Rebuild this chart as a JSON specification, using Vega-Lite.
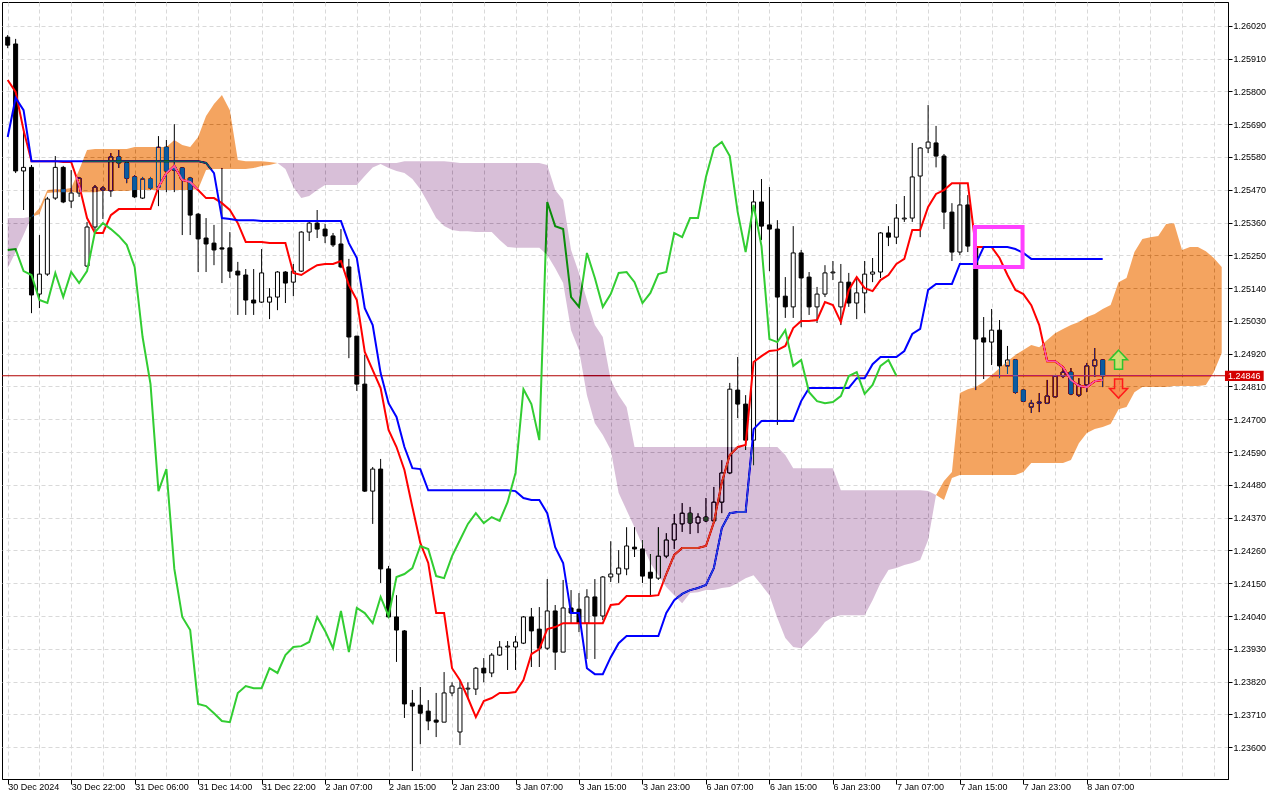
{
  "$schema": "https://vega.github.io/schema/vega-lite/v6.json",
  "description": "Ichimoku H1 chart, 30 Dec 2024 - 8 Jan 2025",
  "width": 1226,
  "height": 777,
  "autosize": {"type": "none"},
  "padding": {"left": 2, "top": 2, "right": 52, "bottom": 21},
  "background": "white",
  "config": {
    "view": {"stroke": "black", "strokeWidth": 1},
    "axis": {
      "labelFont": "Liberation Sans",
      "labelFontSize": 9,
      "labelColor": "black",
      "tickColor": "black",
      "domainColor": "black",
      "gridColor": "#d9d9d9",
      "gridDash": [4, 3],
      "gridWidth": 1,
      "labelOverlap": false,
      "labelBound": false,
      "labelFlush": false,
      "labelSeparation": 0
    }
  },
  "datasets": {
    "bars": [
      {"k":0,"o":1.25982,"h":1.25989,"l":1.25945,"c":1.25955,"tk":1.25838,"kj":1.25647,"ch":1.25268},
      {"k":1,"o":1.25959,"h":1.25976,"l":1.25526,"c":1.25533,"tk":1.25798,"kj":1.25778,"ch":1.25271},
      {"k":2,"o":1.25533,"h":1.25674,"l":1.25402,"c":1.25545,"tk":1.2567,"kj":1.25737,"ch":1.25197},
      {"k":3,"o":1.25545,"h":1.25553,"l":1.25056,"c":1.25117,"tk":1.25566,"kj":1.25566,"ch":1.25184},
      {"k":4,"o":1.2512,"h":1.25318,"l":1.25073,"c":1.25187,"tk":1.25566,"kj":1.25566,"ch":1.251},
      {"k":5,"o":1.25187,"h":1.25446,"l":1.25181,"c":1.25439,"tk":1.25566,"kj":1.25566,"ch":1.2509},
      {"k":6,"o":1.25442,"h":1.25583,"l":1.25436,"c":1.25545,"tk":1.25566,"kj":1.25566,"ch":1.25191},
      {"k":7,"o":1.25545,"h":1.2555,"l":1.25425,"c":1.25429,"tk":1.25563,"kj":1.25566,"ch":1.2511},
      {"k":8,"o":1.25432,"h":1.25536,"l":1.25409,"c":1.25459,"tk":1.25563,"kj":1.25566,"ch":1.25194},
      {"k":9,"o":1.25459,"h":1.25513,"l":1.25446,"c":1.25509,"tk":1.25486,"kj":1.25566,"ch":1.25157},
      {"k":10,"o":1.25214,"h":1.25362,"l":1.25211,"c":1.25345,"tk":1.25375,"kj":1.25566,"ch":1.25197},
      {"k":11,"o":1.25345,"h":1.25486,"l":1.25335,"c":1.25479,"tk":1.25325,"kj":1.25566,"ch":1.25328},
      {"k":12,"o":1.25469,"h":1.25482,"l":1.25372,"c":1.25476,"tk":1.25325,"kj":1.25566,"ch":1.25358},
      {"k":13,"o":1.25466,"h":1.25593,"l":1.25446,"c":1.2558,"tk":1.25385,"kj":1.25566,"ch":1.25338},
      {"k":14,"o":1.2558,"h":1.25603,"l":1.25543,"c":1.2556,"tk":1.25405,"kj":1.25566,"ch":1.25315},
      {"k":15,"o":1.2556,"h":1.25563,"l":1.25492,"c":1.25509,"tk":1.25405,"kj":1.25566,"ch":1.25285},
      {"k":16,"o":1.25513,"h":1.25519,"l":1.25442,"c":1.25446,"tk":1.25405,"kj":1.25566,"ch":1.25211},
      {"k":17,"o":1.25442,"h":1.25513,"l":1.25439,"c":1.25506,"tk":1.25405,"kj":1.25566,"ch":1.24976},
      {"k":18,"o":1.25506,"h":1.25513,"l":1.25469,"c":1.25476,"tk":1.25405,"kj":1.25566,"ch":1.24818},
      {"k":19,"o":1.25479,"h":1.2565,"l":1.25415,"c":1.25613,"tk":1.25479,"kj":1.25566,"ch":1.24459},
      {"k":20,"o":1.25613,"h":1.25637,"l":1.25462,"c":1.25533,"tk":1.25526,"kj":1.25566,"ch":1.24533},
      {"k":21,"o":1.25545,"h":1.2569,"l":1.25462,"c":1.25536,"tk":1.2555,"kj":1.25566,"ch":1.24198},
      {"k":22,"o":1.25543,"h":1.25545,"l":1.25318,"c":1.25506,"tk":1.25503,"kj":1.25566,"ch":1.24037},
      {"k":23,"o":1.25509,"h":1.25513,"l":1.25318,"c":1.25385,"tk":1.25496,"kj":1.25566,"ch":1.23993},
      {"k":24,"o":1.25388,"h":1.25392,"l":1.25194,"c":1.25305,"tk":1.25469,"kj":1.25566,"ch":1.23745},
      {"k":25,"o":1.25308,"h":1.25375,"l":1.25194,"c":1.25288,"tk":1.25442,"kj":1.2556,"ch":1.23738},
      {"k":26,"o":1.25291,"h":1.25352,"l":1.25217,"c":1.25268,"tk":1.25442,"kj":1.25526,"ch":1.23714},
      {"k":27,"o":1.25275,"h":1.25543,"l":1.25157,"c":1.25271,"tk":1.25425,"kj":1.25375,"ch":1.23688},
      {"k":28,"o":1.25275,"h":1.25328,"l":1.25174,"c":1.25197,"tk":1.25402,"kj":1.25372,"ch":1.23684},
      {"k":29,"o":1.25197,"h":1.25228,"l":1.2505,"c":1.25184,"tk":1.25358,"kj":1.25368,"ch":1.23782},
      {"k":30,"o":1.25184,"h":1.25204,"l":1.2505,"c":1.251,"tk":1.25295,"kj":1.25368,"ch":1.23805},
      {"k":31,"o":1.251,"h":1.25204,"l":1.2505,"c":1.2509,"tk":1.25295,"kj":1.25368,"ch":1.23798},
      {"k":32,"o":1.25093,"h":1.25271,"l":1.2509,"c":1.25191,"tk":1.25295,"kj":1.25365,"ch":1.23798},
      {"k":33,"o":1.25093,"h":1.2514,"l":1.25036,"c":1.2511,"tk":1.25291,"kj":1.25365,"ch":1.23865},
      {"k":34,"o":1.2511,"h":1.25197,"l":1.25066,"c":1.25194,"tk":1.25291,"kj":1.25365,"ch":1.23849},
      {"k":35,"o":1.25194,"h":1.25197,"l":1.2509,"c":1.25157,"tk":1.25291,"kj":1.25365,"ch":1.23909},
      {"k":36,"o":1.2516,"h":1.25221,"l":1.25113,"c":1.25197,"tk":1.25191,"kj":1.25365,"ch":1.23936},
      {"k":37,"o":1.25197,"h":1.25331,"l":1.25194,"c":1.25328,"tk":1.25184,"kj":1.25365,"ch":1.23939},
      {"k":38,"o":1.25328,"h":1.25362,"l":1.25298,"c":1.25358,"tk":1.25201,"kj":1.25365,"ch":1.23953},
      {"k":39,"o":1.25358,"h":1.25402,"l":1.25308,"c":1.25338,"tk":1.25217,"kj":1.25365,"ch":1.24037},
      {"k":40,"o":1.25338,"h":1.25355,"l":1.25291,"c":1.25315,"tk":1.25221,"kj":1.25365,"ch":1.2399},
      {"k":41,"o":1.25315,"h":1.25325,"l":1.25278,"c":1.25285,"tk":1.25221,"kj":1.25365,"ch":1.23932},
      {"k":42,"o":1.25288,"h":1.25338,"l":1.25207,"c":1.25211,"tk":1.25231,"kj":1.25365,"ch":1.24057},
      {"k":43,"o":1.25211,"h":1.25238,"l":1.24905,"c":1.24976,"tk":1.2515,"kj":1.25291,"ch":1.23919},
      {"k":44,"o":1.24979,"h":1.24979,"l":1.24795,"c":1.24818,"tk":1.251,"kj":1.25241,"ch":1.24067},
      {"k":45,"o":1.24818,"h":1.24916,"l":1.24456,"c":1.24459,"tk":1.24926,"kj":1.25073,"ch":1.2405},
      {"k":46,"o":1.24459,"h":1.2454,"l":1.24349,"c":1.24533,"tk":1.24865,"kj":1.25016,"ch":1.24016},
      {"k":47,"o":1.24533,"h":1.24567,"l":1.24151,"c":1.24198,"tk":1.24805,"kj":1.24855,"ch":1.24104},
      {"k":48,"o":1.24198,"h":1.24208,"l":1.24033,"c":1.24037,"tk":1.24664,"kj":1.24754,"ch":1.2404},
      {"k":49,"o":1.24037,"h":1.2411,"l":1.23886,"c":1.23993,"tk":1.24607,"kj":1.24708,"ch":1.24171},
      {"k":50,"o":1.2399,"h":1.23993,"l":1.23698,"c":1.23745,"tk":1.2453,"kj":1.24607,"ch":1.24181},
      {"k":51,"o":1.23748,"h":1.23792,"l":1.2352,"c":1.23738,"tk":1.24406,"kj":1.24536,"ch":1.24201},
      {"k":52,"o":1.23741,"h":1.23802,"l":1.2361,"c":1.23714,"tk":1.24285,"kj":1.24533,"ch":1.24275},
      {"k":53,"o":1.23721,"h":1.23758,"l":1.23657,"c":1.23688,"tk":1.24218,"kj":1.24462,"ch":1.24265},
      {"k":54,"o":1.23691,"h":1.23782,"l":1.23634,"c":1.23684,"tk":1.2405,"kj":1.24462,"ch":1.24174},
      {"k":55,"o":1.23684,"h":1.23852,"l":1.23684,"c":1.23782,"tk":1.2405,"kj":1.24462,"ch":1.24167},
      {"k":56,"o":1.23782,"h":1.23818,"l":1.23771,"c":1.23805,"tk":1.23865,"kj":1.24462,"ch":1.24241},
      {"k":57,"o":1.23651,"h":1.23825,"l":1.23607,"c":1.23798,"tk":1.23825,"kj":1.24462,"ch":1.24295},
      {"k":58,"o":1.23795,"h":1.23818,"l":1.23761,"c":1.23798,"tk":1.23765,"kj":1.24462,"ch":1.24349},
      {"k":59,"o":1.23795,"h":1.23869,"l":1.23775,"c":1.23865,"tk":1.23701,"kj":1.24462,"ch":1.24385},
      {"k":60,"o":1.23865,"h":1.23899,"l":1.23818,"c":1.23849,"tk":1.23755,"kj":1.24462,"ch":1.24352},
      {"k":61,"o":1.23849,"h":1.23916,"l":1.23835,"c":1.23909,"tk":1.23765,"kj":1.24462,"ch":1.24372},
      {"k":62,"o":1.23909,"h":1.23956,"l":1.23906,"c":1.23936,"tk":1.23782,"kj":1.24462,"ch":1.24359},
      {"k":63,"o":1.23936,"h":1.23956,"l":1.23859,"c":1.23939,"tk":1.23782,"kj":1.24462,"ch":1.24422},
      {"k":64,"o":1.23936,"h":1.23973,"l":1.23859,"c":1.23953,"tk":1.23785,"kj":1.24459,"ch":1.2452},
      {"k":65,"o":1.23949,"h":1.2404,"l":1.23946,"c":1.24037,"tk":1.23825,"kj":1.24436,"ch":1.24801},
      {"k":66,"o":1.24037,"h":1.24067,"l":1.23869,"c":1.2399,"tk":1.23912,"kj":1.24429,"ch":1.24751},
      {"k":67,"o":1.23996,"h":1.2407,"l":1.23869,"c":1.23932,"tk":1.23929,"kj":1.24429,"ch":1.2463},
      {"k":68,"o":1.23932,"h":1.24164,"l":1.23926,"c":1.24057,"tk":1.23996,"kj":1.24385,"ch":1.25429},
      {"k":69,"o":1.24057,"h":1.24077,"l":1.23859,"c":1.23919,"tk":1.24003,"kj":1.24271,"ch":1.25348},
      {"k":70,"o":1.23919,"h":1.24161,"l":1.23919,"c":1.24067,"tk":1.24016,"kj":1.24218,"ch":1.25338},
      {"k":71,"o":1.24067,"h":1.24127,"l":1.24016,"c":1.2405,"tk":1.24016,"kj":1.2405,"ch":1.2511},
      {"k":72,"o":1.24063,"h":1.24117,"l":1.23986,"c":1.24016,"tk":1.24016,"kj":1.2405,"ch":1.25077},
      {"k":73,"o":1.24016,"h":1.2413,"l":1.23896,"c":1.24104,"tk":1.24016,"kj":1.23865,"ch":1.25258},
      {"k":74,"o":1.24104,"h":1.24164,"l":1.23896,"c":1.2404,"tk":1.24016,"kj":1.23845,"ch":1.25174},
      {"k":75,"o":1.2404,"h":1.24174,"l":1.24026,"c":1.24171,"tk":1.24016,"kj":1.23845,"ch":1.25077},
      {"k":76,"o":1.24171,"h":1.24291,"l":1.24154,"c":1.24181,"tk":1.24077,"kj":1.23902,"ch":1.2512},
      {"k":77,"o":1.24181,"h":1.24261,"l":1.24151,"c":1.24201,"tk":1.2408,"kj":1.23949,"ch":1.25191},
      {"k":78,"o":1.24198,"h":1.24338,"l":1.24177,"c":1.24275,"tk":1.24107,"kj":1.23973,"ch":1.25194},
      {"k":79,"o":1.24271,"h":1.24338,"l":1.24238,"c":1.24265,"tk":1.24107,"kj":1.23973,"ch":1.2516},
      {"k":80,"o":1.24265,"h":1.24295,"l":1.24151,"c":1.24174,"tk":1.24107,"kj":1.23973,"ch":1.2509},
      {"k":81,"o":1.24187,"h":1.24248,"l":1.24104,"c":1.24167,"tk":1.24107,"kj":1.23973,"ch":1.25124},
      {"k":82,"o":1.24167,"h":1.24338,"l":1.24161,"c":1.24241,"tk":1.2411,"kj":1.23973,"ch":1.25187},
      {"k":83,"o":1.24241,"h":1.24318,"l":1.24234,"c":1.24295,"tk":1.24181,"kj":1.2405,"ch":1.25194},
      {"k":84,"o":1.24295,"h":1.24382,"l":1.24265,"c":1.24349,"tk":1.24245,"kj":1.24093,"ch":1.25325},
      {"k":85,"o":1.24349,"h":1.24419,"l":1.24322,"c":1.24385,"tk":1.24268,"kj":1.24114,"ch":1.25311},
      {"k":86,"o":1.24385,"h":1.24406,"l":1.24315,"c":1.24352,"tk":1.24268,"kj":1.24127,"ch":1.25375},
      {"k":87,"o":1.24352,"h":1.24385,"l":1.24318,"c":1.24372,"tk":1.24268,"kj":1.24134,"ch":1.25375},
      {"k":88,"o":1.24372,"h":1.24436,"l":1.24355,"c":1.24359,"tk":1.24275,"kj":1.24144,"ch":1.25513},
      {"k":89,"o":1.24359,"h":1.24473,"l":1.24355,"c":1.24422,"tk":1.24355,"kj":1.24201,"ch":1.2561},
      {"k":90,"o":1.24422,"h":1.24563,"l":1.24385,"c":1.2452,"tk":1.24489,"kj":1.24335,"ch":1.2563},
      {"k":91,"o":1.2452,"h":1.24822,"l":1.24516,"c":1.24801,"tk":1.2458,"kj":1.24385,"ch":1.25583},
      {"k":92,"o":1.24798,"h":1.24909,"l":1.24704,"c":1.24751,"tk":1.24607,"kj":1.24389,"ch":1.25395},
      {"k":93,"o":1.24751,"h":1.24781,"l":1.24597,"c":1.2463,"tk":1.24614,"kj":1.24389,"ch":1.25261},
      {"k":94,"o":1.2463,"h":1.25469,"l":1.24546,"c":1.25429,"tk":1.24892,"kj":1.24667,"ch":1.25419},
      {"k":95,"o":1.25429,"h":1.25506,"l":1.25301,"c":1.25348,"tk":1.24912,"kj":1.24694,"ch":1.25281},
      {"k":96,"o":1.25352,"h":1.25479,"l":1.25197,"c":1.25338,"tk":1.24929,"kj":1.24694,"ch":1.24969},
      {"k":97,"o":1.25338,"h":1.25368,"l":1.24681,"c":1.2511,"tk":1.24932,"kj":1.24694,"ch":1.24959},
      {"k":98,"o":1.25113,"h":1.25177,"l":1.2504,"c":1.25077,"tk":1.24946,"kj":1.24694,"ch":1.24999},
      {"k":99,"o":1.25077,"h":1.25348,"l":1.2504,"c":1.25258,"tk":1.25006,"kj":1.24694,"ch":1.24879},
      {"k":100,"o":1.25258,"h":1.25268,"l":1.25009,"c":1.25174,"tk":1.2503,"kj":1.24761,"ch":1.24899},
      {"k":101,"o":1.25177,"h":1.25194,"l":1.2505,"c":1.25077,"tk":1.2503,"kj":1.24805,"ch":1.24791},
      {"k":102,"o":1.25077,"h":1.25144,"l":1.25023,"c":1.2512,"tk":1.25033,"kj":1.24805,"ch":1.24761},
      {"k":103,"o":1.2512,"h":1.25217,"l":1.2511,"c":1.25191,"tk":1.25093,"kj":1.24805,"ch":1.24754},
      {"k":104,"o":1.25191,"h":1.25231,"l":1.25167,"c":1.25194,"tk":1.25083,"kj":1.24805,"ch":1.24758},
      {"k":105,"o":1.25077,"h":1.25221,"l":1.25016,"c":1.2516,"tk":1.25026,"kj":1.24805,"ch":1.24778},
      {"k":106,"o":1.2516,"h":1.25191,"l":1.25077,"c":1.2509,"tk":1.25134,"kj":1.24805,"ch":1.24845},
      {"k":107,"o":1.2509,"h":1.25174,"l":1.25036,"c":1.25124,"tk":1.25177,"kj":1.24838,"ch":1.24858},
      {"k":108,"o":1.25124,"h":1.25231,"l":1.25056,"c":1.25187,"tk":1.2514,"kj":1.24838,"ch":1.24785},
      {"k":109,"o":1.25187,"h":1.25241,"l":1.2516,"c":1.25194,"tk":1.2513,"kj":1.24885,"ch":1.24815},
      {"k":110,"o":1.25194,"h":1.25328,"l":1.25174,"c":1.25325,"tk":1.25167,"kj":1.24909,"ch":1.24879},
      {"k":111,"o":1.25325,"h":1.25348,"l":1.25281,"c":1.25311,"tk":1.25184,"kj":1.24909,"ch":1.24899},
      {"k":112,"o":1.25311,"h":1.25422,"l":1.25288,"c":1.25375,"tk":1.25221,"kj":1.24909,"ch":1.24846},
      {"k":113,"o":1.25372,"h":1.25449,"l":1.25362,"c":1.25375,"tk":1.25238,"kj":1.24929},
      {"k":114,"o":1.25375,"h":1.25627,"l":1.25362,"c":1.25513,"tk":1.25335,"kj":1.24986},
      {"k":115,"o":1.25516,"h":1.25613,"l":1.25311,"c":1.2561,"tk":1.25335,"kj":1.25003},
      {"k":116,"o":1.2561,"h":1.25754,"l":1.25593,"c":1.2563,"tk":1.25412,"kj":1.25134},
      {"k":117,"o":1.25627,"h":1.25684,"l":1.25545,"c":1.25583,"tk":1.25456,"kj":1.25154},
      {"k":118,"o":1.25583,"h":1.2559,"l":1.25338,"c":1.25395,"tk":1.25469,"kj":1.25154},
      {"k":119,"o":1.25395,"h":1.25425,"l":1.25231,"c":1.25261,"tk":1.25492,"kj":1.25154},
      {"k":120,"o":1.25261,"h":1.25492,"l":1.25251,"c":1.25419,"tk":1.25492,"kj":1.25221},
      {"k":121,"o":1.25419,"h":1.25452,"l":1.25261,"c":1.25281,"tk":1.25492,"kj":1.25221},
      {"k":122,"o":1.25278,"h":1.25285,"l":1.24798,"c":1.24969,"tk":1.25278,"kj":1.25221},
      {"k":123,"o":1.24973,"h":1.25043,"l":1.24835,"c":1.24959,"tk":1.25278,"kj":1.25278},
      {"k":124,"o":1.24959,"h":1.2507,"l":1.24882,"c":1.24999,"tk":1.25278,"kj":1.25278},
      {"k":125,"o":1.24999,"h":1.25033,"l":1.24838,"c":1.24879,"tk":1.25241,"kj":1.25278},
      {"k":126,"o":1.24879,"h":1.24946,"l":1.24852,"c":1.24899,"tk":1.25184,"kj":1.25278},
      {"k":127,"o":1.24899,"h":1.24902,"l":1.24785,"c":1.24791,"tk":1.25134,"kj":1.25271},
      {"k":128,"o":1.24798,"h":1.24801,"l":1.24758,"c":1.24761,"tk":1.2512,"kj":1.25258},
      {"k":129,"o":1.24741,"h":1.24765,"l":1.24721,"c":1.24754,"tk":1.25083,"kj":1.25238},
      {"k":130,"o":1.24754,"h":1.24788,"l":1.24724,"c":1.24758,"tk":1.25016,"kj":1.25238},
      {"k":131,"o":1.24754,"h":1.24832,"l":1.24751,"c":1.24778,"tk":1.24895,"kj":1.25238},
      {"k":132,"o":1.24775,"h":1.24848,"l":1.24775,"c":1.24845,"tk":1.24895,"kj":1.25238},
      {"k":133,"o":1.24845,"h":1.24872,"l":1.24838,"c":1.24858,"tk":1.24875,"kj":1.25238},
      {"k":134,"o":1.24858,"h":1.24872,"l":1.24781,"c":1.24785,"tk":1.24832,"kj":1.25238},
      {"k":135,"o":1.24781,"h":1.24838,"l":1.24775,"c":1.24815,"tk":1.24812,"kj":1.25238},
      {"k":136,"o":1.24815,"h":1.24889,"l":1.24791,"c":1.24879,"tk":1.24808,"kj":1.25238},
      {"k":137,"o":1.24879,"h":1.24939,"l":1.24842,"c":1.24899,"tk":1.24828,"kj":1.25238},
      {"k":138,"o":1.24899,"h":1.249,"l":1.24808,"c":1.24846,"tk":1.24832,"kj":1.25238}
    ],
    "kumo": [
      {"k":0,"hi":1.25375,"lo":1.25207,"seg":"a","c":"dn"},
      {"k":1,"hi":1.25375,"lo":1.25261,"seg":"a","c":"dn"},
      {"k":2,"hi":1.25375,"lo":1.25318,"seg":"a","c":"dn"},
      {"k":3,"hi":1.25379,"lo":1.25379,"seg":"a","c":"dn"},
      {"k":3,"hi":1.25379,"lo":1.25379,"seg":"b","c":"up"},
      {"k":4,"hi":1.25409,"lo":1.25388,"seg":"b","c":"up"},
      {"k":5,"hi":1.25469,"lo":1.25459,"seg":"b","c":"up"},
      {"k":6,"hi":1.25472,"lo":1.25462,"seg":"b","c":"up"},
      {"k":7,"hi":1.25472,"lo":1.25462,"seg":"b","c":"up"},
      {"k":8,"hi":1.25476,"lo":1.25462,"seg":"b","c":"up"},
      {"k":9,"hi":1.25536,"lo":1.25462,"seg":"b","c":"up"},
      {"k":10,"hi":1.25603,"lo":1.25462,"seg":"b","c":"up"},
      {"k":11,"hi":1.25607,"lo":1.25462,"seg":"b","c":"up"},
      {"k":12,"hi":1.25607,"lo":1.25466,"seg":"b","c":"up"},
      {"k":13,"hi":1.25607,"lo":1.25466,"seg":"b","c":"up"},
      {"k":14,"hi":1.25607,"lo":1.25466,"seg":"b","c":"up"},
      {"k":15,"hi":1.25607,"lo":1.25466,"seg":"b","c":"up"},
      {"k":16,"hi":1.25613,"lo":1.25469,"seg":"b","c":"up"},
      {"k":17,"hi":1.25613,"lo":1.25469,"seg":"b","c":"up"},
      {"k":18,"hi":1.25613,"lo":1.25469,"seg":"b","c":"up"},
      {"k":19,"hi":1.25613,"lo":1.25469,"seg":"b","c":"up"},
      {"k":20,"hi":1.25613,"lo":1.25469,"seg":"b","c":"up"},
      {"k":21,"hi":1.25637,"lo":1.25469,"seg":"b","c":"up"},
      {"k":22,"hi":1.2562,"lo":1.25469,"seg":"b","c":"up"},
      {"k":23,"hi":1.25613,"lo":1.25469,"seg":"b","c":"up"},
      {"k":24,"hi":1.25647,"lo":1.25472,"seg":"b","c":"up"},
      {"k":25,"hi":1.25717,"lo":1.25536,"seg":"b","c":"up"},
      {"k":26,"hi":1.25758,"lo":1.2554,"seg":"b","c":"up"},
      {"k":27,"hi":1.25788,"lo":1.2554,"seg":"b","c":"up"},
      {"k":28,"hi":1.25737,"lo":1.2554,"seg":"b","c":"up"},
      {"k":29,"hi":1.2557,"lo":1.2554,"seg":"b","c":"up"},
      {"k":30,"hi":1.25566,"lo":1.2554,"seg":"b","c":"up"},
      {"k":31,"hi":1.25566,"lo":1.25543,"seg":"b","c":"up"},
      {"k":32,"hi":1.25566,"lo":1.2555,"seg":"b","c":"up"},
      {"k":33,"hi":1.25563,"lo":1.25553,"seg":"b","c":"up"},
      {"k":34,"hi":1.2556,"lo":1.2556,"seg":"b","c":"up"},
      {"k":34,"hi":1.2556,"lo":1.2556,"seg":"c","c":"dn"},
      {"k":35,"hi":1.2556,"lo":1.2554,"seg":"c","c":"dn"},
      {"k":36,"hi":1.2556,"lo":1.25479,"seg":"c","c":"dn"},
      {"k":37,"hi":1.2556,"lo":1.25442,"seg":"c","c":"dn"},
      {"k":38,"hi":1.2556,"lo":1.25449,"seg":"c","c":"dn"},
      {"k":39,"hi":1.2556,"lo":1.25469,"seg":"c","c":"dn"},
      {"k":40,"hi":1.2556,"lo":1.25486,"seg":"c","c":"dn"},
      {"k":41,"hi":1.2556,"lo":1.25486,"seg":"c","c":"dn"},
      {"k":42,"hi":1.2556,"lo":1.25486,"seg":"c","c":"dn"},
      {"k":43,"hi":1.2556,"lo":1.25486,"seg":"c","c":"dn"},
      {"k":44,"hi":1.2556,"lo":1.25486,"seg":"c","c":"dn"},
      {"k":45,"hi":1.2556,"lo":1.25516,"seg":"c","c":"dn"},
      {"k":46,"hi":1.2556,"lo":1.25545,"seg":"c","c":"dn"},
      {"k":47,"hi":1.2556,"lo":1.25556,"seg":"c","c":"dn"},
      {"k":48,"hi":1.2556,"lo":1.25543,"seg":"c","c":"dn"},
      {"k":49,"hi":1.2556,"lo":1.25533,"seg":"c","c":"dn"},
      {"k":50,"hi":1.25566,"lo":1.25526,"seg":"c","c":"dn"},
      {"k":51,"hi":1.25566,"lo":1.25506,"seg":"c","c":"dn"},
      {"k":52,"hi":1.25566,"lo":1.25472,"seg":"c","c":"dn"},
      {"k":53,"hi":1.25566,"lo":1.25425,"seg":"c","c":"dn"},
      {"k":54,"hi":1.25566,"lo":1.25375,"seg":"c","c":"dn"},
      {"k":55,"hi":1.25566,"lo":1.25348,"seg":"c","c":"dn"},
      {"k":56,"hi":1.25563,"lo":1.25335,"seg":"c","c":"dn"},
      {"k":57,"hi":1.2556,"lo":1.25331,"seg":"c","c":"dn"},
      {"k":58,"hi":1.2556,"lo":1.25331,"seg":"c","c":"dn"},
      {"k":59,"hi":1.2556,"lo":1.25328,"seg":"c","c":"dn"},
      {"k":60,"hi":1.2556,"lo":1.25328,"seg":"c","c":"dn"},
      {"k":61,"hi":1.2556,"lo":1.25328,"seg":"c","c":"dn"},
      {"k":62,"hi":1.2556,"lo":1.25301,"seg":"c","c":"dn"},
      {"k":63,"hi":1.2556,"lo":1.25278,"seg":"c","c":"dn"},
      {"k":64,"hi":1.2556,"lo":1.25275,"seg":"c","c":"dn"},
      {"k":65,"hi":1.2556,"lo":1.25275,"seg":"c","c":"dn"},
      {"k":66,"hi":1.2556,"lo":1.25275,"seg":"c","c":"dn"},
      {"k":67,"hi":1.2556,"lo":1.25275,"seg":"c","c":"dn"},
      {"k":68,"hi":1.25553,"lo":1.25251,"seg":"c","c":"dn"},
      {"k":69,"hi":1.25469,"lo":1.25207,"seg":"c","c":"dn"},
      {"k":70,"hi":1.25436,"lo":1.25157,"seg":"c","c":"dn"},
      {"k":71,"hi":1.25268,"lo":1.24999,"seg":"c","c":"dn"},
      {"k":72,"hi":1.25191,"lo":1.24932,"seg":"c","c":"dn"},
      {"k":73,"hi":1.251,"lo":1.24781,"seg":"c","c":"dn"},
      {"k":74,"hi":1.25016,"lo":1.24687,"seg":"c","c":"dn"},
      {"k":75,"hi":1.24976,"lo":1.24647,"seg":"c","c":"dn"},
      {"k":76,"hi":1.24832,"lo":1.24597,"seg":"c","c":"dn"},
      {"k":77,"hi":1.24781,"lo":1.24453,"seg":"c","c":"dn"},
      {"k":78,"hi":1.24741,"lo":1.24395,"seg":"c","c":"dn"},
      {"k":79,"hi":1.24607,"lo":1.24338,"seg":"c","c":"dn"},
      {"k":80,"hi":1.24607,"lo":1.24278,"seg":"c","c":"dn"},
      {"k":81,"hi":1.24607,"lo":1.24218,"seg":"c","c":"dn"},
      {"k":82,"hi":1.24607,"lo":1.24177,"seg":"c","c":"dn"},
      {"k":83,"hi":1.24607,"lo":1.24137,"seg":"c","c":"dn"},
      {"k":84,"hi":1.24607,"lo":1.2411,"seg":"c","c":"dn"},
      {"k":85,"hi":1.24607,"lo":1.24083,"seg":"c","c":"dn"},
      {"k":86,"hi":1.24607,"lo":1.24117,"seg":"c","c":"dn"},
      {"k":87,"hi":1.24607,"lo":1.2412,"seg":"c","c":"dn"},
      {"k":88,"hi":1.24607,"lo":1.24127,"seg":"c","c":"dn"},
      {"k":89,"hi":1.24607,"lo":1.24127,"seg":"c","c":"dn"},
      {"k":90,"hi":1.24607,"lo":1.24134,"seg":"c","c":"dn"},
      {"k":91,"hi":1.24607,"lo":1.24137,"seg":"c","c":"dn"},
      {"k":92,"hi":1.24607,"lo":1.24151,"seg":"c","c":"dn"},
      {"k":93,"hi":1.24607,"lo":1.24167,"seg":"c","c":"dn"},
      {"k":94,"hi":1.24607,"lo":1.24177,"seg":"c","c":"dn"},
      {"k":95,"hi":1.24607,"lo":1.24144,"seg":"c","c":"dn"},
      {"k":96,"hi":1.24607,"lo":1.2411,"seg":"c","c":"dn"},
      {"k":97,"hi":1.24607,"lo":1.24033,"seg":"c","c":"dn"},
      {"k":98,"hi":1.2458,"lo":1.23966,"seg":"c","c":"dn"},
      {"k":99,"hi":1.24536,"lo":1.23936,"seg":"c","c":"dn"},
      {"k":100,"hi":1.24536,"lo":1.23932,"seg":"c","c":"dn"},
      {"k":101,"hi":1.24536,"lo":1.23959,"seg":"c","c":"dn"},
      {"k":102,"hi":1.24536,"lo":1.23986,"seg":"c","c":"dn"},
      {"k":103,"hi":1.24536,"lo":1.2402,"seg":"c","c":"dn"},
      {"k":104,"hi":1.24536,"lo":1.24037,"seg":"c","c":"dn"},
      {"k":105,"hi":1.24462,"lo":1.24043,"seg":"c","c":"dn"},
      {"k":106,"hi":1.24462,"lo":1.24043,"seg":"c","c":"dn"},
      {"k":107,"hi":1.24462,"lo":1.24043,"seg":"c","c":"dn"},
      {"k":108,"hi":1.24462,"lo":1.24043,"seg":"c","c":"dn"},
      {"k":109,"hi":1.24462,"lo":1.24093,"seg":"c","c":"dn"},
      {"k":110,"hi":1.24462,"lo":1.24151,"seg":"c","c":"dn"},
      {"k":111,"hi":1.24462,"lo":1.24194,"seg":"c","c":"dn"},
      {"k":112,"hi":1.24462,"lo":1.24201,"seg":"c","c":"dn"},
      {"k":113,"hi":1.24462,"lo":1.24211,"seg":"c","c":"dn"},
      {"k":114,"hi":1.24462,"lo":1.24218,"seg":"c","c":"dn"},
      {"k":115,"hi":1.24462,"lo":1.24228,"seg":"c","c":"dn"},
      {"k":116,"hi":1.24459,"lo":1.24295,"seg":"c","c":"dn"},
      {"k":117,"hi":1.24446,"lo":1.24446,"seg":"c","c":"dn"},
      {"k":117,"hi":1.24446,"lo":1.24446,"seg":"d","c":"up"},
      {"k":118,"hi":1.24493,"lo":1.24429,"seg":"d","c":"up"},
      {"k":119,"hi":1.24523,"lo":1.24503,"seg":"d","c":"up"},
      {"k":120,"hi":1.24788,"lo":1.24513,"seg":"d","c":"up"},
      {"k":121,"hi":1.24801,"lo":1.24513,"seg":"d","c":"up"},
      {"k":122,"hi":1.24808,"lo":1.24513,"seg":"d","c":"up"},
      {"k":123,"hi":1.24825,"lo":1.24513,"seg":"d","c":"up"},
      {"k":124,"hi":1.24848,"lo":1.24513,"seg":"d","c":"up"},
      {"k":125,"hi":1.24872,"lo":1.24513,"seg":"d","c":"up"},
      {"k":126,"hi":1.24895,"lo":1.24513,"seg":"d","c":"up"},
      {"k":127,"hi":1.24916,"lo":1.24513,"seg":"d","c":"up"},
      {"k":128,"hi":1.24932,"lo":1.24523,"seg":"d","c":"up"},
      {"k":129,"hi":1.24949,"lo":1.24553,"seg":"d","c":"up"},
      {"k":130,"hi":1.24942,"lo":1.24553,"seg":"d","c":"up"},
      {"k":131,"hi":1.24966,"lo":1.24553,"seg":"d","c":"up"},
      {"k":132,"hi":1.24989,"lo":1.24553,"seg":"d","c":"up"},
      {"k":133,"hi":1.25003,"lo":1.24553,"seg":"d","c":"up"},
      {"k":134,"hi":1.25016,"lo":1.24563,"seg":"d","c":"up"},
      {"k":135,"hi":1.25026,"lo":1.2462,"seg":"d","c":"up"},
      {"k":136,"hi":1.25043,"lo":1.24654,"seg":"d","c":"up"},
      {"k":137,"hi":1.25053,"lo":1.24667,"seg":"d","c":"up"},
      {"k":138,"hi":1.2507,"lo":1.24674,"seg":"d","c":"up"},
      {"k":139,"hi":1.25083,"lo":1.24684,"seg":"d","c":"up"},
      {"k":140,"hi":1.2516,"lo":1.24734,"seg":"d","c":"up"},
      {"k":141,"hi":1.25174,"lo":1.24741,"seg":"d","c":"up"},
      {"k":142,"hi":1.25261,"lo":1.24791,"seg":"d","c":"up"},
      {"k":143,"hi":1.25305,"lo":1.24808,"seg":"d","c":"up"},
      {"k":144,"hi":1.25311,"lo":1.24808,"seg":"d","c":"up"},
      {"k":145,"hi":1.25315,"lo":1.24808,"seg":"d","c":"up"},
      {"k":146,"hi":1.25355,"lo":1.24808,"seg":"d","c":"up"},
      {"k":147,"hi":1.25358,"lo":1.24812,"seg":"d","c":"up"},
      {"k":148,"hi":1.25268,"lo":1.24812,"seg":"d","c":"up"},
      {"k":149,"hi":1.25278,"lo":1.24812,"seg":"d","c":"up"},
      {"k":150,"hi":1.25278,"lo":1.24812,"seg":"d","c":"up"},
      {"k":151,"hi":1.25264,"lo":1.24815,"seg":"d","c":"up"},
      {"k":152,"hi":1.25241,"lo":1.24858,"seg":"d","c":"up"},
      {"k":153,"hi":1.25211,"lo":1.24922,"seg":"d","c":"up"}
    ],
    "price": [{"p": 1.24846, "lab": "1.24846", "k1": 153.41, "k2": 158.29, "kt": 153.8, "hi": 1.24863, "lo": 1.24828}],
    "box": [{"k1": 121.9, "k2": 127.9, "p1": 1.25345, "p2": 1.25211}],
    "arrows": [
      {"k": 140, "p": 1.249, "dir": "up"},
      {"k": 140, "p": 1.24803, "dir": "down"}
    ]
  },
  "layer": [
    {
      "data": {"name": "bars"},
      "mark": {"type": "rule", "color": "black", "strokeWidth": 1},
      "encoding": {
        "x": {
          "field": "k", "type": "quantitative", "title": null,
          "scale": {"domain": [-0.0875, 153.1625], "nice": false, "zero": false},
          "axis": {
            "orient": "bottom",
            "values": [0,4,8,12,16,20,24,28,32,36,40,44,48,52,56,60,64,68,72,76,80,84,88,92,96,100,104,108,112,116,120,124,128,132,136,140,144,148,152],
            "grid": true, "ticks": false, "labels": false, "domain": false
          }
        },
        "y": {
          "field": "l", "type": "quantitative", "title": null,
          "scale": {"domain": [1.234933, 1.260998], "nice": false, "zero": false},
          "axis": {
            "orient": "right",
            "values": [1.236,1.2371,1.2382,1.2393,1.2404,1.2415,1.2426,1.2437,1.2448,1.2459,1.247,1.2481,1.2492,1.2503,1.2514,1.2525,1.2536,1.2547,1.2558,1.2569,1.258,1.2591,1.2602],
            "format": ".5f", "grid": true, "ticks": true, "tickSize": 4, "labelPadding": 1, "domain": true,
            "labelBaseline": "middle", "labelOverlap": false, "labelBound": false, "labelFlush": false
          }
        },
        "y2": {"field": "h"}
      }
    },
    {
      "data": {"name": "bars"},
      "mark": {"type": "bar", "size": 4, "stroke": "black", "strokeWidth": 1},
      "encoding": {
        "x": {
          "field": "k", "type": "quantitative", "title": null,
          "scale": {"domain": [-0.0875, 153.1625], "nice": false, "zero": false},
          "axis": {
            "orient": "bottom",
            "values": [0,8,16,24,32,40,48,56,64,72,80,88,96,104,112,120,128,136],
            "grid": false, "ticks": true, "tickSize": 5, "domain": true,
            "labelAlign": "left", "labelBaseline": "top", "labelPadding": -2,
            "labelOverlap": false, "labelBound": false, "labelFlush": false,
            "labelExpr": "['30 Dec 2024','30 Dec 22:00','31 Dec 06:00','31 Dec 14:00','31 Dec 22:00','2 Jan 07:00','2 Jan 15:00','2 Jan 23:00','3 Jan 07:00','3 Jan 15:00','3 Jan 23:00','6 Jan 07:00','6 Jan 15:00','6 Jan 23:00','7 Jan 07:00','7 Jan 15:00','7 Jan 23:00','8 Jan 07:00'][round(datum.value / 8)]"
          }
        },
        "y": {"field": "o", "type": "quantitative", "title": null, "axis": null,
              "scale": {"domain": [1.234933, 1.260998], "nice": false, "zero": false}},
        "y2": {"field": "c"},
        "fill": {"condition": {"test": "datum.c >= datum.o", "value": "white"}, "value": "black"}
      }
    },
    {
      "data": {"name": "price"},
      "mark": {"type": "rule", "color": "#b00000", "strokeWidth": 1},
      "encoding": {
        "y": {"field": "p", "type": "quantitative", "title": null, "axis": null,
              "scale": {"domain": [1.234933, 1.260998], "nice": false, "zero": false}}
      }
    },
    {
      "data": {"name": "bars"},
      "mark": {"type": "line", "color": "#ff0000", "strokeWidth": 2},
      "encoding": {
        "x": {"field": "k", "type": "quantitative", "title": null, "axis": null,
              "scale": {"domain": [-0.0875, 153.1625], "nice": false, "zero": false}},
        "y": {"field": "tk", "type": "quantitative", "title": null, "axis": null,
              "scale": {"domain": [1.234933, 1.260998], "nice": false, "zero": false}}
      }
    },
    {
      "data": {"name": "bars"},
      "mark": {"type": "line", "color": "#0000ff", "strokeWidth": 2},
      "encoding": {
        "x": {"field": "k", "type": "quantitative", "title": null, "axis": null,
              "scale": {"domain": [-0.0875, 153.1625], "nice": false, "zero": false}},
        "y": {"field": "kj", "type": "quantitative", "title": null, "axis": null,
              "scale": {"domain": [1.234933, 1.260998], "nice": false, "zero": false}}
      }
    },
    {
      "data": {"name": "bars"},
      "mark": {"type": "line", "color": "#32cd32", "strokeWidth": 2},
      "encoding": {
        "x": {"field": "k", "type": "quantitative", "title": null, "axis": null,
              "scale": {"domain": [-0.0875, 153.1625], "nice": false, "zero": false}},
        "y": {"field": "ch", "type": "quantitative", "title": null, "axis": null,
              "scale": {"domain": [1.234933, 1.260998], "nice": false, "zero": false}}
      }
    },
    {
      "data": {"name": "kumo"},
      "transform": [{"filter": "datum.c === 'up'"}],
      "mark": {"type": "area", "color": "#0b5b9f", "opacity": 1, "fillOpacity": 1, "blend": "difference"},
      "encoding": {
        "x": {"field": "k", "type": "quantitative", "title": null, "axis": null,
              "scale": {"domain": [-0.0875, 153.1625], "nice": false, "zero": false}},
        "y": {"field": "hi", "type": "quantitative", "title": null, "axis": null,
              "scale": {"domain": [1.234933, 1.260998], "nice": false, "zero": false}},
        "y2": {"field": "lo"},
        "detail": {"field": "seg", "type": "nominal"}
      }
    },
    {
      "data": {"name": "kumo"},
      "transform": [{"filter": "datum.c === 'dn'"}],
      "mark": {"type": "area", "color": "#274027", "opacity": 1, "fillOpacity": 1, "blend": "difference"},
      "encoding": {
        "x": {"field": "k", "type": "quantitative", "title": null, "axis": null,
              "scale": {"domain": [-0.0875, 153.1625], "nice": false, "zero": false}},
        "y": {"field": "hi", "type": "quantitative", "title": null, "axis": null,
              "scale": {"domain": [1.234933, 1.260998], "nice": false, "zero": false}},
        "y2": {"field": "lo"},
        "detail": {"field": "seg", "type": "nominal"}
      }
    },
    {
      "data": {"name": "box"},
      "mark": {"type": "rect", "fillOpacity": 0, "stroke": "#ff40ff", "strokeWidth": 4},
      "encoding": {
        "x": {"field": "k1", "type": "quantitative", "title": null, "axis": null,
              "scale": {"domain": [-0.0875, 153.1625], "nice": false, "zero": false}},
        "x2": {"field": "k2"},
        "y": {"field": "p1", "type": "quantitative", "title": null, "axis": null,
              "scale": {"domain": [1.234933, 1.260998], "nice": false, "zero": false}},
        "y2": {"field": "p2"}
      }
    },
    {
      "data": {"name": "arrows"},
      "transform": [{"filter": "datum.dir === 'up'"}],
      "mark": {"type": "point", "shape": "M0,-1L0.95,0L0.42,0L0.42,1L-0.42,1L-0.42,0L-0.95,0Z",
               "size": 361, "filled": true, "fill": "#c8ec78", "fillOpacity": 0.8, "stroke": "#2ec42e", "strokeWidth": 1.5, "opacity": 1},
      "encoding": {
        "x": {"field": "k", "type": "quantitative", "title": null, "axis": null,
              "scale": {"domain": [-0.0875, 153.1625], "nice": false, "zero": false}},
        "y": {"field": "p", "type": "quantitative", "title": null, "axis": null,
              "scale": {"domain": [1.234933, 1.260998], "nice": false, "zero": false}}
      }
    },
    {
      "data": {"name": "arrows"},
      "transform": [{"filter": "datum.dir === 'down'"}],
      "mark": {"type": "point", "shape": "M0,1L0.95,0L0.42,0L0.42,-1L-0.42,-1L-0.42,0L-0.95,0Z",
               "size": 361, "filled": true, "fill": "#ff7040", "fillOpacity": 0.45, "stroke": "#ff1a1a", "strokeWidth": 1.5, "opacity": 1},
      "encoding": {
        "x": {"field": "k", "type": "quantitative", "title": null, "axis": null,
              "scale": {"domain": [-0.0875, 153.1625], "nice": false, "zero": false}},
        "y": {"field": "p", "type": "quantitative", "title": null, "axis": null,
              "scale": {"domain": [1.234933, 1.260998], "nice": false, "zero": false}}
      }
    },
    {
      "data": {"name": "price"},
      "mark": {"type": "rect", "color": "#d40000"},
      "encoding": {
        "x": {"field": "k1", "type": "quantitative", "title": null, "axis": null,
              "scale": {"domain": [-0.0875, 153.1625], "nice": false, "zero": false}},
        "x2": {"field": "k2"},
        "y": {"field": "hi", "type": "quantitative", "title": null, "axis": null,
              "scale": {"domain": [1.234933, 1.260998], "nice": false, "zero": false}},
        "y2": {"field": "lo"}
      }
    },
    {
      "data": {"name": "price"},
      "mark": {"type": "text", "align": "left", "baseline": "middle", "color": "white",
               "font": "Liberation Sans", "fontSize": 9},
      "encoding": {
        "x": {"field": "kt", "type": "quantitative", "title": null, "axis": null,
              "scale": {"domain": [-0.0875, 153.1625], "nice": false, "zero": false}},
        "y": {"field": "p", "type": "quantitative", "title": null, "axis": null,
              "scale": {"domain": [1.234933, 1.260998], "nice": false, "zero": false}},
        "text": {"field": "lab", "type": "nominal"}
      }
    }
  ],
  "resolve": {"axis": {"x": "independent", "y": "independent"}}
}
